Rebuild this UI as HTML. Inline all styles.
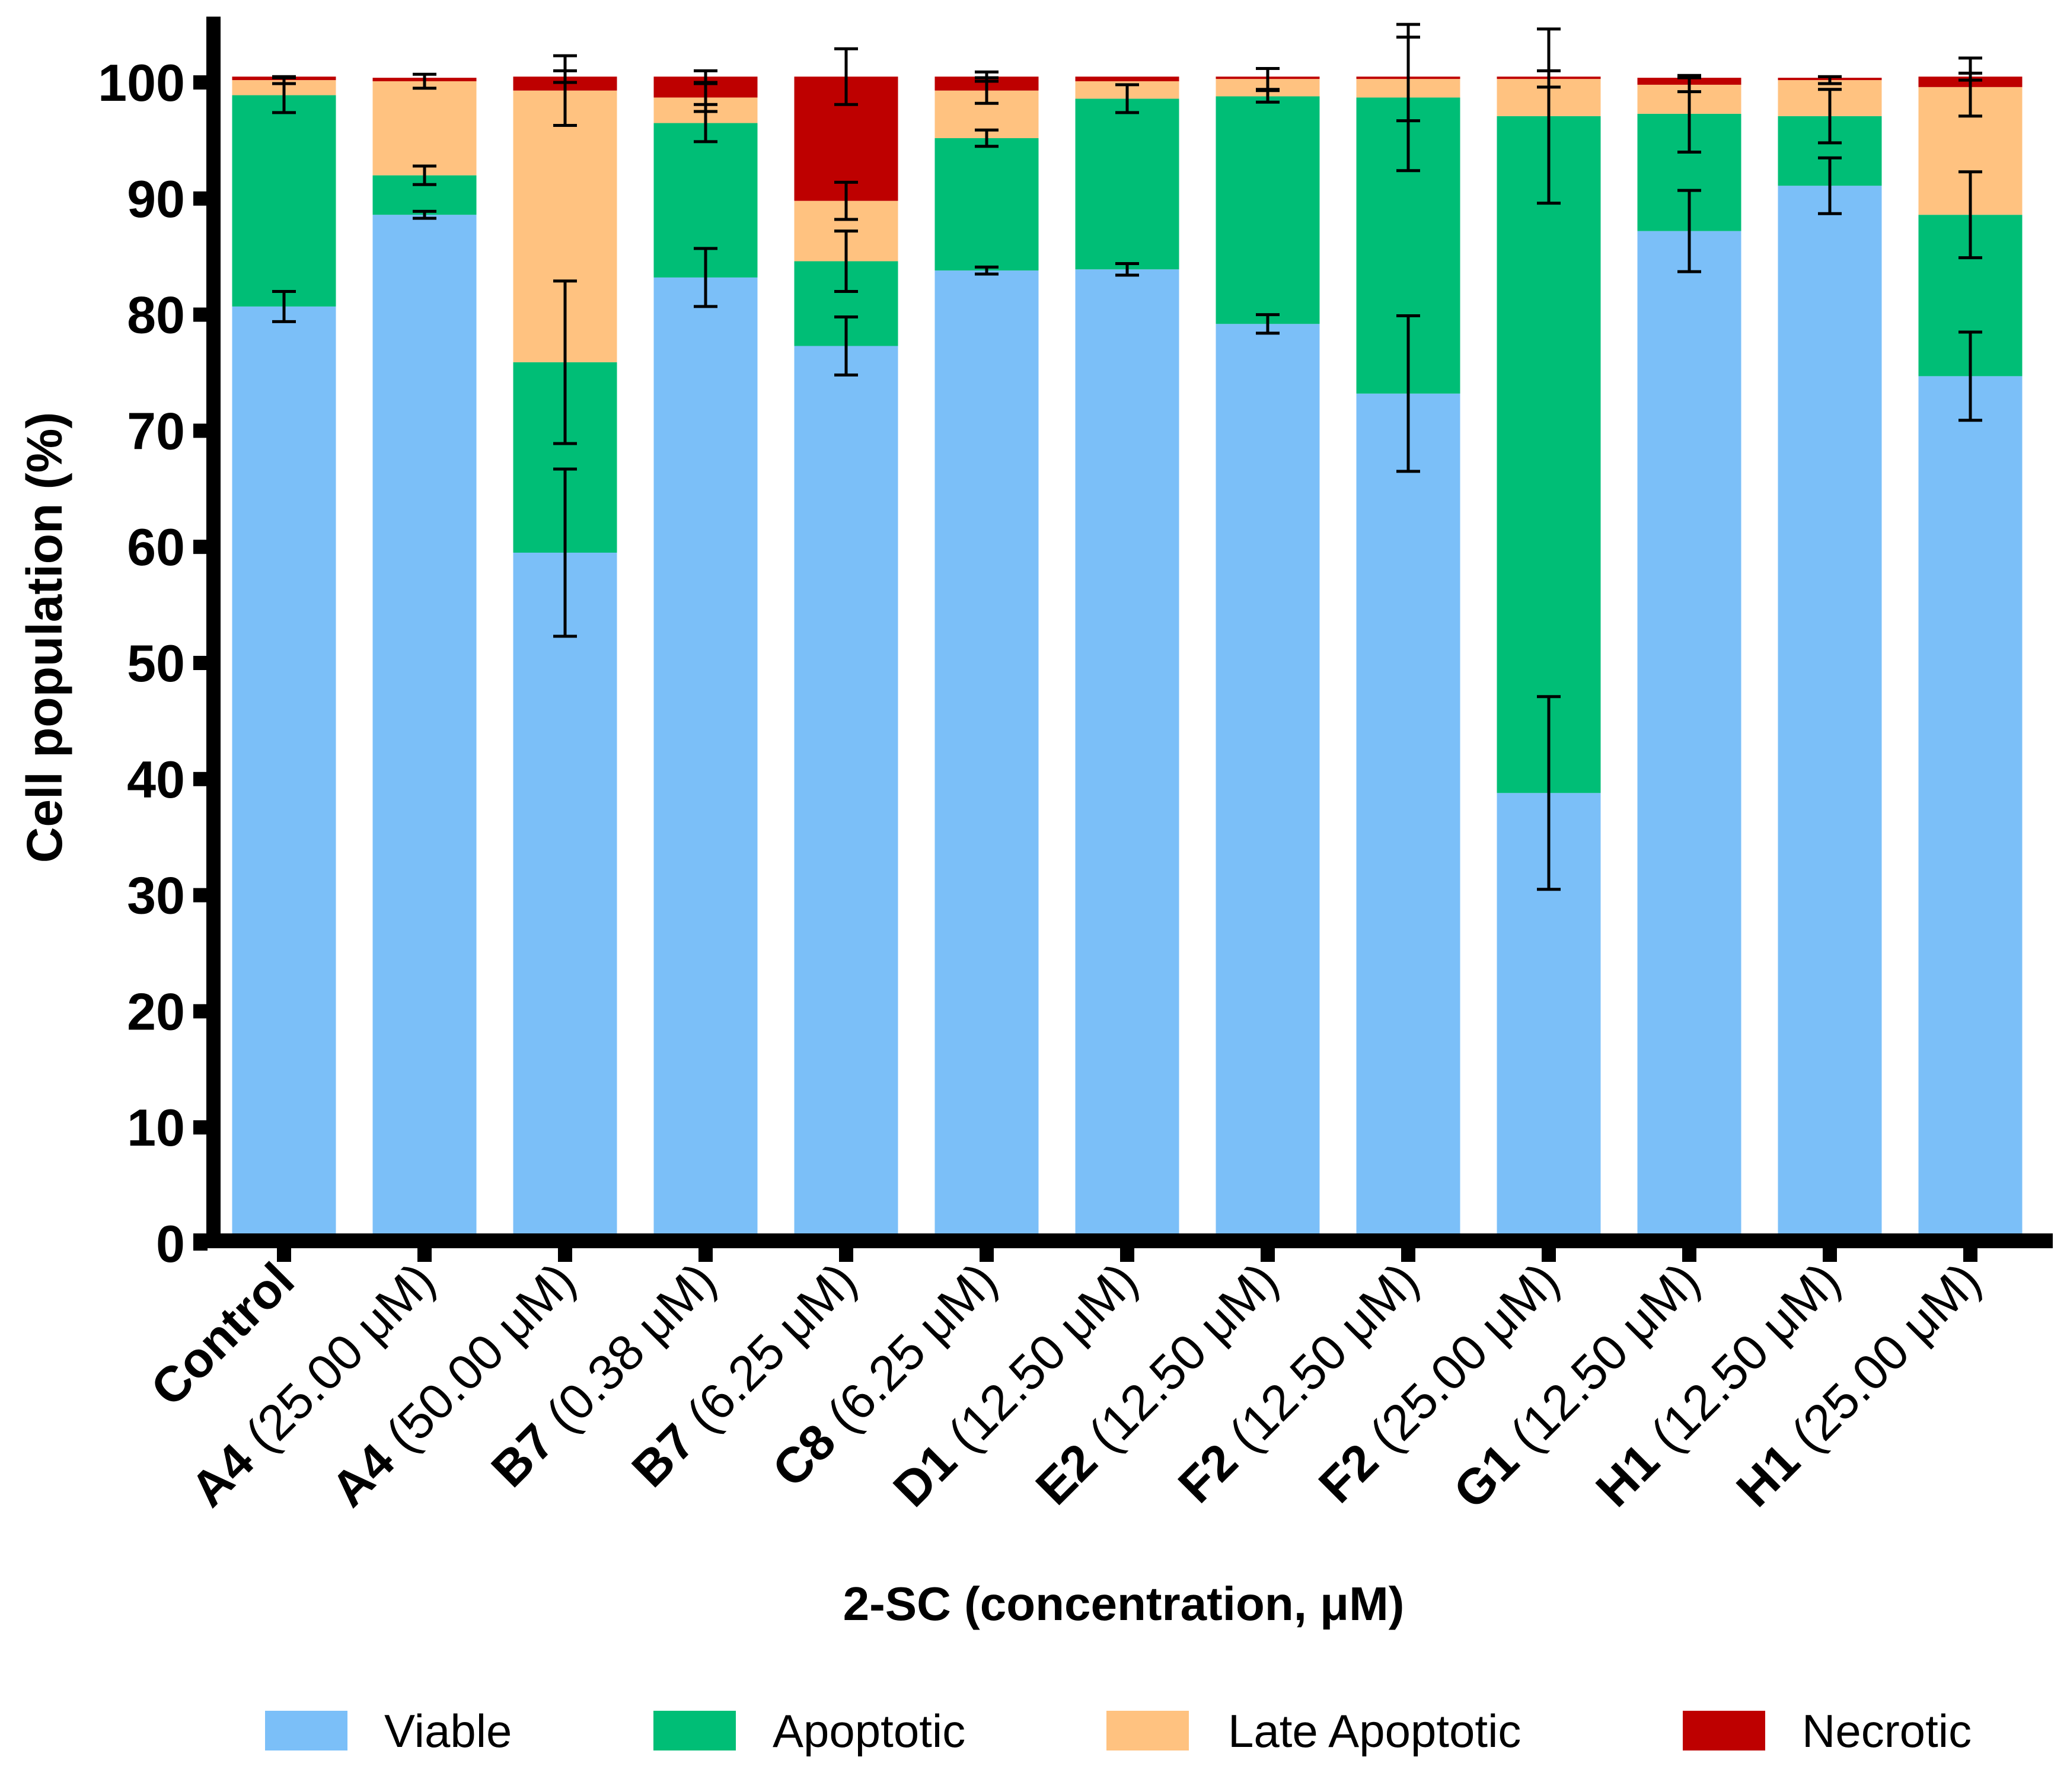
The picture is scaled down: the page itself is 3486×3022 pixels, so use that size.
<!DOCTYPE html>
<html><head><meta charset="utf-8"><style>
html,body{margin:0;padding:0;background:#fff;}
svg{display:block;font-family:"Liberation Sans",Arial,sans-serif;}
</style></head><body>
<svg id="chart" width="3486" height="3022" viewBox="0 0 3486 3022" xmlns="http://www.w3.org/2000/svg">
<g id="bars"></g>
<g id="errs"></g>
<g id="axes"></g>
<text transform="translate(104,1075) rotate(-90)" text-anchor="middle" font-weight="bold" font-size="84">Cell population (%)</text>
<text x="1895" y="2732" text-anchor="middle" font-weight="bold" font-size="80">2-SC (concentration, μM)</text>
<g font-size="78">
<g><rect x="447" y="2885" width="139" height="67" fill="#7bbff8"/><text x="648" y="2946">Viable</text></g>
<g><rect x="1102" y="2885" width="139" height="67" fill="#00be76"/><text x="1303" y="2946">Apoptotic</text></g>
<g><rect x="1866" y="2885" width="139" height="67" fill="#ffc280"/><text x="2071" y="2946">Late Apoptotic</text></g>
<g><rect x="2838" y="2885" width="139" height="67" fill="#be0000"/><text x="3039" y="2946">Necrotic</text></g>
</g>
</svg>
<script>
const groups = ["Control","A4","A4","B7","B7","C8","D1","E2","F2","F2","G1","H1","H1"];
const concs = ["","(25.00 μM)","(50.00 μM)","(0.38 μM)","(6.25 μM)","(6.25 μM)","(12.50 μM)","(12.50 μM)","(12.50 μM)","(25.00 μM)","(12.50 μM)","(12.50 μM)","(25.00 μM)"];
const viable = [80.7,88.6,59.5,83.2,77.3,83.8,83.9,79.2,73.2,38.8,87.2,91.1,74.7];
const apoptotic = [18.2,3.4,16.4,13.3,7.3,11.4,14.7,19.6,25.5,58.3,10.1,6.0,13.9];
const lateApoptotic = [1.3,8.1,23.4,2.2,5.2,4.1,1.5,1.5,1.6,3.2,2.5,3.1,11.0];
const necrotic = [0.3,0.3,1.2,1.8,10.7,1.2,0.4,0.2,0.2,0.2,0.6,0.2,0.9];
const errViable = [1.3,0.3,7.2,2.5,2.5,0.3,0.5,0.8,6.7,8.3,3.5,2.4,3.8];
const errApoptotic = [1.5,0.8,7.0,1.6,2.6,0.7,1.2,0.5,6.3,7.5,3.3,2.3,3.7];
const errLate = [0.3,0.6,3.0,1.2,1.6,1.1,0,0.9,3.6,0.7,0.6,0.3,2.5];
const errNecrotic = [0,0,0.5,0.5,2.4,0.4,0,0,0,0,0,0,0.3];
const yTicks = [0,10,20,30,40,50,60,70,80,90,100];

const NS="http://www.w3.org/2000/svg";
const y = v => 2097 - v*19.58;
const xc = i => 479 + i*237;
const BW = 175;
function mk(tag, parent, attrs){const e=document.createElementNS(NS,tag);for(const k in attrs)e.setAttribute(k,attrs[k]);parent.appendChild(e);return e;}
const bars=document.getElementById('bars'), errs=document.getElementById('errs'), axes=document.getElementById('axes');
const series=[["viable",viable,errViable,"#7bbff8"],["apoptotic",apoptotic,errApoptotic,"#00be76"],["late-apoptotic",lateApoptotic,errLate,"#ffc280"],["necrotic",necrotic,errNecrotic,"#be0000"]];
groups.forEach((g,i)=>{
  let base=0;
  series.forEach(([nm,vals,ev,col])=>{
    const top=base+vals[i];
    const r=mk('rect',bars,{x:xc(i)-BW/2,y:y(top),width:BW,height:y(base)-y(top),fill:col});
    
    
    if(ev[i]>0){
      const eg=mk('g',errs,{stroke:'#000','stroke-width':5});
      
      
      mk('line',eg,{x1:xc(i),x2:xc(i),y1:y(top+ev[i]),y2:y(top-ev[i])});
      mk('line',eg,{x1:xc(i)-20,x2:xc(i)+20,y1:y(top+ev[i]),y2:y(top+ev[i])});
      mk('line',eg,{x1:xc(i)-20,x2:xc(i)+20,y1:y(top-ev[i]),y2:y(top-ev[i])});
    }
    base=top;
  });
  const tk=mk('rect',axes,{x:xc(i)-12,y:2100,width:24,height:28,fill:'#000'});
  
  
  const t=mk('text',axes,{transform:`translate(${xc(i)+22},${2165}) rotate(-45)`,'text-anchor':'end','font-size':84});
  
  
  const b=mk('tspan',t,{'font-weight':'bold'}); b.textContent=g;
  if(concs[i]){const s=mk('tspan',t,{}); s.textContent=' '+concs[i];}
});
const ya=mk('rect',axes,{x:348,y:28,width:24,height:2077,fill:'#000'});


const xa=mk('rect',axes,{x:326,y:2080,width:3136,height:25,fill:'#000'});


yTicks.forEach(v=>{
  const tk=mk('rect',axes,{x:326,y:y(v)-12,width:24,height:24,fill:'#000'});
  
  
  const t=mk('text',axes,{x:312,y:y(v)+31,'text-anchor':'end','font-size':88,'font-weight':'bold'});
  
  
  t.textContent=v;
});
</script>
</body></html>
